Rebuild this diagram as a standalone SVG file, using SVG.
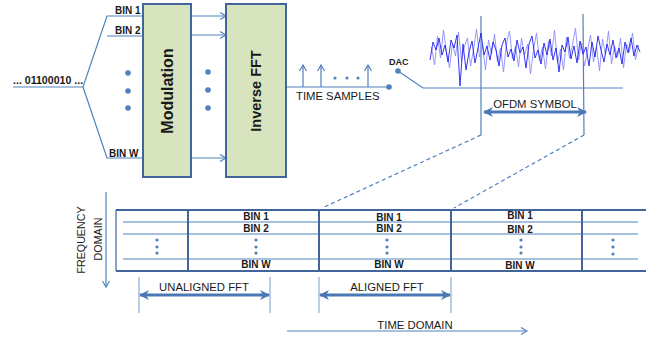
<svg xmlns="http://www.w3.org/2000/svg" width="654" height="341" viewBox="0 0 654 341">
<defs>
<style>
.ln{stroke:#4f81bd;stroke-width:1.2;fill:none}
.lt{stroke:#8eaedb;stroke-width:1.2;fill:none}
.dk{stroke:#41659a;stroke-width:2;fill:none}
.box{fill:#d7e4bd;stroke:#41659a;stroke-width:2}
.t{font-family:"Liberation Sans",Arial,sans-serif;fill:#1a1a1a}
.b{font-weight:bold;font-size:10px}
.n{font-size:11.3px}
.dot{fill:#4f81bd}
.thick{stroke:#4a78b6;stroke-width:3;fill:none}
</style>
<marker id="ch" viewBox="0 0 8 8" refX="7" refY="4" markerWidth="8" markerHeight="8" markerUnits="userSpaceOnUse" orient="auto">
<path d="M1,0.5 L7,4 L1,7.5" fill="none" stroke="#4f81bd" stroke-width="1.2"/>
</marker>
<marker id="ah" viewBox="0 0 10 10" refX="9" refY="5" markerWidth="10" markerHeight="10" markerUnits="userSpaceOnUse" orient="auto-start-reverse">
<path d="M0,0 L10,5 L0,10 L3,5 z" fill="#4a78b6"/>
</marker>
</defs>
<rect width="654" height="341" fill="#ffffff"/>

<g id="connectors">
<polyline class="ln" points="13,87 83,87 107,16 143,16"/>
<line class="ln" x1="107" y1="36" x2="143" y2="36"/>
<polyline class="ln" points="83,87 107,158 143,158"/>
<line class="ln" x1="191" y1="16" x2="226" y2="16" marker-end="url(#ch)"/>
<line class="ln" x1="191" y1="35" x2="226" y2="35" marker-end="url(#ch)"/>
<line class="ln" x1="191" y1="158" x2="226" y2="158" marker-end="url(#ch)"/>
<line class="ln" x1="286" y1="87" x2="389" y2="87"/>
<line class="ln" x1="303" y1="87" x2="303" y2="65" marker-end="url(#ch)"/>
<line class="ln" x1="321" y1="87" x2="321" y2="65" marker-end="url(#ch)"/>
<line class="ln" x1="368" y1="87" x2="368" y2="65" marker-end="url(#ch)"/>
<circle class="dot" cx="335" cy="78" r="1.6"/>
<circle class="dot" cx="347" cy="78" r="1.6"/>
<circle class="dot" cx="358" cy="78" r="1.6"/>
<circle class="dot" cx="389" cy="87" r="2.8"/>
<circle class="dot" cx="398" cy="71" r="2.8"/>
<polyline class="ln" points="398,71 423,88 623,88"/>
<line class="ln" x1="481" y1="16" x2="481" y2="135"/>
<line class="ln" x1="583" y1="14" x2="584" y2="135"/>
<line class="ln" x1="481" y1="135" x2="322" y2="208" stroke-dasharray="4,3"/>
<line class="ln" x1="584" y1="135" x2="454" y2="208" stroke-dasharray="4,3"/>
<line class="thick" x1="484" y1="112" x2="586" y2="112" marker-start="url(#ah)" marker-end="url(#ah)"/>
<line class="ln" x1="106" y1="192" x2="106" y2="287" marker-end="url(#ch)"/>
<line class="lt" x1="139" y1="277" x2="139" y2="313"/>
<line class="lt" x1="270" y1="277" x2="270" y2="313"/>
<line class="thick" x1="140" y1="295" x2="269" y2="295" marker-start="url(#ah)" marker-end="url(#ah)"/>
<line class="lt" x1="319" y1="277" x2="319" y2="313"/>
<line class="lt" x1="451" y1="277" x2="451" y2="313"/>
<line class="thick" x1="320" y1="295" x2="450" y2="295" marker-start="url(#ah)" marker-end="url(#ah)"/>
<line class="ln" x1="287" y1="331" x2="527" y2="331" marker-end="url(#ch)"/>
</g>

<g id="waveform">
<polyline fill="none" stroke="#8c8cff" stroke-width="0.9" points="431.5,47 434.5,65 437.5,36 440.5,58 443.5,30 446.5,52 449.5,68 452.5,44 455.5,56 458.5,32 461.5,61 464.5,46 467.5,38 470.5,66 473.5,50 476.5,29 479.5,57 482.5,45 485.5,70 488.5,40 491.5,54 494.5,34 497.5,62 500.5,48 503.5,72 506.5,43 509.5,31 512.5,59 515.5,46 518.5,67 521.5,38 524.5,55 527.5,44 530.5,74 533.5,50 536.5,33 539.5,61 542.5,47 545.5,69 548.5,41 551.5,56 554.5,30 557.5,63 560.5,49 563.5,70 566.5,37 569.5,58 572.5,45 575.5,28 578.5,60 581.5,43 584.5,66 587.5,51 590.5,35 593.5,62 596.5,47 599.5,71 602.5,39 605.5,55 608.5,31 611.5,64 614.5,46 617.5,57 620.5,38 623.5,68 626.5,44 629.5,52 632.5,33 635.5,60 638.5,45"/>
<polyline fill="none" stroke="#2020ee" stroke-width="0.9" points="430,60 433,42 436,50 439,38 442,55 445,45 448,62 451,40 454,48 457,35 460,86 463,44 466,70 469,52 472,41 475,63 478,48 481,33 484,55 487,46 490,60 493,42 496,50 499,66 502,45 505,38 508,57 511,49 514,61 517,40 520,53 523,47 526,68 529,44 532,36 535,58 538,50 541,64 544,43 547,55 550,39 553,60 556,48 559,72 562,45 565,52 568,37 571,59 574,46 577,63 580,41 583,54 586,47 589,66 592,42 595,57 598,36 601,50 604,62 607,44 610,55 613,40 616,58 619,48 622,64 625,42 628,53 631,38 634,56 637,45 640,52"/>
</g>

<g id="input">
<text class="t" font-weight="bold" font-size="10.6" x="13" y="84">... 01100010 ...</text>
<text class="t b" x="115" y="14">BIN 1</text>
<text class="t b" x="115" y="34">BIN 2</text>
<text class="t b" x="109" y="157">BIN W</text>
</g>

<g id="modulation">
<rect class="box" x="143" y="4" width="48" height="173"/>
<text class="t" font-weight="bold" font-size="16" text-anchor="middle" transform="translate(173,91) rotate(-90)">Modulation</text>
<circle class="dot" cx="128" cy="73" r="2.8"/>
<circle class="dot" cx="128" cy="91" r="2.8"/>
<circle class="dot" cx="128" cy="108" r="2.8"/>
<circle class="dot" cx="208" cy="72" r="2.8"/>
<circle class="dot" cx="208" cy="90" r="2.8"/>
<circle class="dot" cx="208" cy="108" r="2.8"/>
</g>

<g id="inverse-fft">
<rect class="box" x="226" y="4" width="60" height="173"/>
<text class="t" font-weight="bold" font-size="14.5" text-anchor="middle" transform="translate(261,91) rotate(-90)">Inverse FFT</text>
</g>

<g id="time-samples">
<text class="t n" x="296" y="100">TIME SAMPLES</text>
</g>

<g id="dac">
<text class="t" font-weight="bold" font-size="9" x="389" y="65">DAC</text>
</g>

<g id="ofdm-symbol">
<text class="t n" x="535" y="108" text-anchor="middle">OFDM SYMBOL</text>
</g>

<g id="frequency-domain">
<text class="t" font-size="10.7" text-anchor="middle" transform="translate(85,240) rotate(-90)">FREQUENCY</text>
<text class="t" font-size="10.7" text-anchor="middle" transform="translate(102,239) rotate(-90)">DOMAIN</text>
</g>

<g id="grid">
<line class="ln" x1="123" y1="222" x2="638" y2="222"/>
<line class="ln" x1="123" y1="234" x2="638" y2="234"/>
<line class="ln" x1="123" y1="259" x2="638" y2="259"/>
<line x1="116" y1="210" x2="116" y2="271" stroke="#41659a" stroke-width="1.2"/>
<line class="dk" x1="116" y1="210" x2="646" y2="210"/>
<line class="dk" x1="116" y1="271" x2="646" y2="271"/>
<line class="dk" x1="188" y1="210" x2="188" y2="271"/>
<line class="dk" x1="319" y1="210" x2="319" y2="271"/>
<line class="dk" x1="451" y1="210" x2="451" y2="271"/>
<line class="dk" x1="582" y1="210" x2="582" y2="271"/>
</g>

<g id="cell-1">
<circle class="dot" cx="157" cy="240" r="1.6"/>
<circle class="dot" cx="157" cy="247" r="1.6"/>
<circle class="dot" cx="157" cy="253" r="1.6"/>
</g>
<g id="cell-2">
<text class="t b" x="256" y="220" text-anchor="middle">BIN 1</text>
<text class="t b" x="256" y="232" text-anchor="middle">BIN 2</text>
<circle class="dot" cx="256" cy="240" r="1.6"/>
<circle class="dot" cx="256" cy="247" r="1.6"/>
<circle class="dot" cx="256" cy="253" r="1.6"/>
<text class="t b" x="256" y="268" text-anchor="middle">BIN W</text>
</g>
<g id="cell-3">
<text class="t b" x="389" y="221" text-anchor="middle">BIN 1</text>
<text class="t b" x="389" y="232" text-anchor="middle">BIN 2</text>
<circle class="dot" cx="387" cy="240" r="1.6"/>
<circle class="dot" cx="387" cy="247" r="1.6"/>
<circle class="dot" cx="387" cy="253" r="1.6"/>
<text class="t b" x="389" y="268" text-anchor="middle">BIN W</text>
</g>
<g id="cell-4">
<text class="t b" x="520" y="219" text-anchor="middle">BIN 1</text>
<text class="t b" x="520" y="233" text-anchor="middle">BIN 2</text>
<circle class="dot" cx="521" cy="240" r="1.6"/>
<circle class="dot" cx="521" cy="247" r="1.6"/>
<circle class="dot" cx="521" cy="253" r="1.6"/>
<text class="t b" x="520" y="269" text-anchor="middle">BIN W</text>
</g>
<g id="cell-5">
<circle class="dot" cx="613" cy="240" r="1.6"/>
<circle class="dot" cx="613" cy="247" r="1.6"/>
<circle class="dot" cx="613" cy="254" r="1.6"/>
</g>

<g id="unaligned-fft">
<text class="t n" x="204" y="291" text-anchor="middle">UNALIGNED FFT</text>
</g>
<g id="aligned-fft">
<text class="t n" x="387" y="291" text-anchor="middle">ALIGNED FFT</text>
</g>
<g id="time-domain">
<text class="t n" x="415" y="329" text-anchor="middle">TIME DOMAIN</text>
</g>
</svg>
